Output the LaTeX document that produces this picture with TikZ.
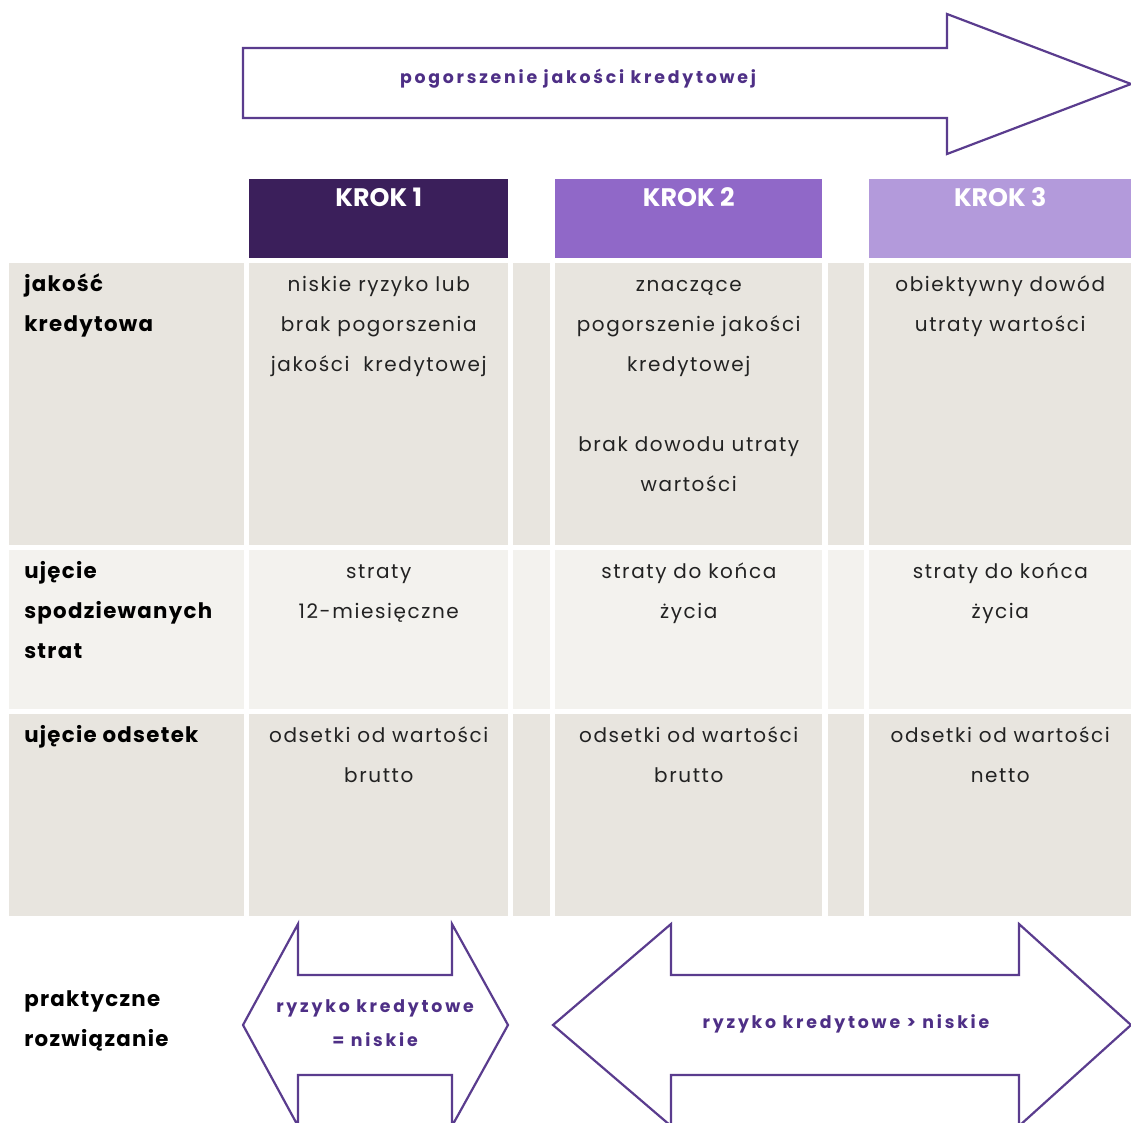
\documentclass[tikz,border=0pt]{standalone}
\usepackage{fontspec}
\setmainfont{Poppins}
\newfontfamily\bodyfont[LetterSpace=8]{Poppins}
\newfontfamily\lblfont[LetterSpace=6]{Poppins}
\newfontfamily\arrfont[LetterSpace=16]{Poppins}
\newdimen\pxu \pxu=0.75pt
\definecolor{krokA}{HTML}{3B1F5B}
\definecolor{krokB}{HTML}{9068C8}
\definecolor{krokC}{HTML}{B39ADB}
\definecolor{cellA}{HTML}{E8E5DF}
\definecolor{cellB}{HTML}{F3F2EE}
\definecolor{arrc}{HTML}{5A3C8E}
\definecolor{arrtext}{HTML}{4E2F86}
\definecolor{bodyc}{HTML}{222222}
\begin{document}
\begin{tikzpicture}[x=0.75pt,y=-0.75pt,
  cell/.style={fill=#1, draw=none, inner sep=0, anchor=north west},
  hdr/.style={fill=#1, draw=none, inner sep=0, anchor=north west, minimum height=79\pxu},
  hdrtxt/.style={text=white, font=\bfseries\fontsize{19}{20}\selectfont, inner sep=0, anchor=base},
  body/.style={text=bodyc, font=\bodyfont\fontsize{15}{30}\selectfont, align=center, inner sep=0, anchor=north},
  lbl/.style={text=black, font=\lblfont\bfseries\fontsize{16}{30}\selectfont, align=left, inner sep=0, anchor=north west},
  arr/.style={draw=arrc, line width=2.2\pxu, line join=miter, fill=white},
  arrtxt/.style={text=arrtext, font=\arrfont\bfseries\fontsize{13}{25.5}\selectfont, align=center, inner sep=0, anchor=base}
]
\useasboundingbox (0,0) rectangle (1131,1123);

% top arrow
\draw[arr] (243,48) -- (947,48) -- (947,14) -- (1131,84) -- (947,154) -- (947,118) -- (243,118) -- cycle;
\node[arrtxt] (toptxt) at (578,84) {pogorszenie jakości kredytowej};

% headers
\node[hdr=krokA, minimum width=259\pxu] (h1) at (249,179) {};
\node[hdr=krokB, minimum width=267\pxu] (h2) at (555,179) {};
\node[hdr=krokC, minimum width=262\pxu] (h3) at (869,179) {};
\node[hdrtxt] (h1t) at ([yshift=-28\pxu]h1.north) {KROK 1};
\node[hdrtxt] (h2t) at ([yshift=-28\pxu]h2.north) {KROK 2};
\node[hdrtxt] (h3t) at ([yshift=-28\pxu]h3.north) {KROK 3};

% row 1
\node[cell=cellA, minimum width=235\pxu, minimum height=282\pxu] (r1l) at (9,263) {};
\node[cell=cellA, minimum width=259\pxu, minimum height=282\pxu] (r1a) at (249,263) {};
\node[cell=cellA, minimum width=37\pxu, minimum height=282\pxu] (r1s) at (513,263) {};
\node[cell=cellA, minimum width=267\pxu, minimum height=282\pxu] (r1b) at (555,263) {};
\node[cell=cellA, minimum width=36\pxu, minimum height=282\pxu] (r1t) at (828,263) {};
\node[cell=cellA, minimum width=262\pxu, minimum height=282\pxu] (r1c) at (869,263) {};
% row 2
\node[cell=cellB, minimum width=235\pxu, minimum height=159\pxu] (r2l) at (9,550) {};
\node[cell=cellB, minimum width=259\pxu, minimum height=159\pxu] (r2a) at (249,550) {};
\node[cell=cellB, minimum width=37\pxu, minimum height=159\pxu] (r2s) at (513,550) {};
\node[cell=cellB, minimum width=267\pxu, minimum height=159\pxu] (r2b) at (555,550) {};
\node[cell=cellB, minimum width=36\pxu, minimum height=159\pxu] (r2t) at (828,550) {};
\node[cell=cellB, minimum width=262\pxu, minimum height=159\pxu] (r2c) at (869,550) {};
% row 3
\node[cell=cellA, minimum width=235\pxu, minimum height=202\pxu] (r3l) at (9,714) {};
\node[cell=cellA, minimum width=259\pxu, minimum height=202\pxu] (r3a) at (249,714) {};
\node[cell=cellA, minimum width=37\pxu, minimum height=202\pxu] (r3s) at (513,714) {};
\node[cell=cellA, minimum width=267\pxu, minimum height=202\pxu] (r3b) at (555,714) {};
\node[cell=cellA, minimum width=36\pxu, minimum height=202\pxu] (r3t) at (828,714) {};
\node[cell=cellA, minimum width=262\pxu, minimum height=202\pxu] (r3c) at (869,714) {};

% row labels
\node[lbl] (l1) at ([xshift=15\pxu]r1l.north west) {\strut jakość\\kredytowa};
\node[lbl] (l2) at ([xshift=15\pxu]r2l.north west) {\strut ujęcie\\spodziewanych\\strat};
\node[lbl] (l3) at ([xshift=15\pxu]r3l.north west) {\strut ujęcie odsetek};
\node[lbl] (l4) at (24,978) {\strut praktyczne\\rozwiązanie};

% cell texts
\node[body] (t1a) at (r1a.north) {\strut niskie ryzyko lub\\brak pogorszenia\\jakości~ kredytowej};
\node[body] (t1b) at (r1b.north) {\strut znaczące\\pogorszenie jakości\\kredytowej\\\strut\\brak dowodu utraty\\wartości};
\node[body] (t1c) at (r1c.north) {\strut obiektywny dowód\\utraty wartości};
\node[body] (t2a) at (r2a.north) {\strut straty\\12-miesięczne};
\node[body] (t2b) at (r2b.north) {\strut straty do końca\\życia};
\node[body] (t2c) at (r2c.north) {\strut straty do końca\\życia};
\node[body] (t3a) at (r3a.north) {\strut odsetki od wartości\\brutto};
\node[body] (t3b) at (r3b.north) {\strut odsetki od wartości\\brutto};
\node[body] (t3c) at (r3c.north) {\strut odsetki od wartości\\netto};

% bottom arrows
\draw[arr] (243,1025) -- (298,924) -- (298,975) -- (452,975) -- (452,924) -- (508,1025) -- (452,1126) -- (452,1075) -- (298,1075) -- (298,1126) -- cycle;
\node[arrtxt] (b1t) at (375,1046) {ryzyko kredytowe\\= niskie};
\draw[arr] (553,1025) -- (671,924) -- (671,975) -- (1019,975) -- (1019,924) -- (1131,1025) -- (1019,1126) -- (1019,1075) -- (671,1075) -- (671,1126) -- cycle;
\node[arrtxt] (b2t) at (846,1028) {ryzyko kredytowe > niskie};
\end{tikzpicture}
\end{document}
